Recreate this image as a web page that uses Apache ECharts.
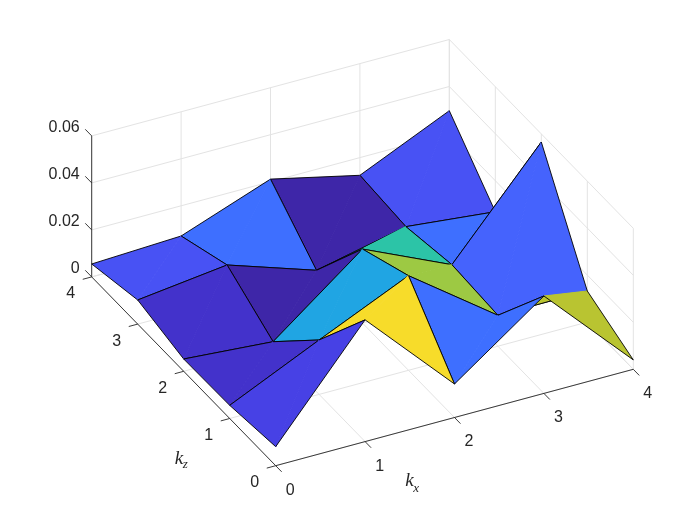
<!DOCTYPE html>
<html><head><meta charset="utf-8">
<style>html,body{margin:0;padding:0;background:#fff}#c{width:700px;height:525px}</style>
<script src="https://cdn.jsdelivr.net/npm/echarts@6/dist/echarts.min.js"></script>
</head><body><div id="c"></div>
<script>
// tick values
var kxTicks = [0, 1, 2, 3, 4];
var kzTicks = [0, 1, 2, 3, 4];
var zTicks = [0, 0.02, 0.04, 0.06];
var zTickLabels = ['0', '0.02', '0.04', '0.06'];
// surface heights, one list per kz row, kx = 0..4
var zAtKz0 = [0.0081, 0.0518, 0.01426, 0.04145, 0.0040];
var zAtKz1 = [0.0056, 0.02315, 0.04026, 0.01315, 0.01323];
var zAtKz2 = [0.00523, 0.00234, 0.0315, 0.0146, 0.05655];
var zAtKz3 = [0.01026, 0.0149, 0.00238, 0.0107, 0.0068];
var zAtKz4 = [0.0055, 0.00715, 0.0211, 0.01247, 0.0297];
var zRows = [zAtKz0, zAtKz1, zAtKz2, zAtKz3, zAtKz4];
// parula colormap
var parula = [[.2422,.1504,.6603],[.2504,.1650,.7076],[.2578,.1818,.7511],[.2647,.1978,.7952],[.2706,.2147,.8364],[.2751,.2342,.8710],[.2783,.2559,.8991],[.2803,.2782,.9221],[.2813,.3006,.9414],[.2810,.3228,.9579],[.2795,.3447,.9717],[.2760,.3667,.9829],[.2699,.3892,.9906],[.2602,.4123,.9952],[.2440,.4358,.9988],[.2206,.4603,.9973],[.1963,.4847,.9892],[.1834,.5074,.9798],[.1786,.5289,.9682],[.1764,.5499,.9520],[.1687,.5703,.9359],[.1540,.5902,.9218],[.1460,.6091,.9079],[.1380,.6276,.8973],[.1248,.6459,.8883],[.1113,.6635,.8763],[.0952,.6798,.8598],[.0689,.6948,.8394],[.0297,.7082,.8163],[.0036,.7203,.7917],[.0067,.7312,.7660],[.0433,.7411,.7394],[.0964,.7500,.7120],[.1408,.7584,.6842],[.1717,.7670,.6554],[.1938,.7758,.6251],[.2161,.7843,.5923],[.2470,.7918,.5567],[.2906,.7973,.5188],[.3406,.8008,.4789],[.3909,.8029,.4354],[.4456,.8024,.3909],[.5044,.7993,.3480],[.5616,.7942,.3045],[.6174,.7876,.2612],[.6720,.7793,.2227],[.7242,.7698,.1910],[.7738,.7598,.1646],[.8203,.7498,.1535],[.8634,.7406,.1596],[.9035,.7330,.1774],[.9393,.7288,.2100],[.9728,.7298,.2394],[.9956,.7434,.2371],[.9970,.7659,.2199],[.9952,.7893,.2028],[.9892,.8136,.1885],[.9786,.8386,.1766],[.9676,.8639,.1643],[.9610,.8890,.1537],[.9597,.9135,.1423],[.9628,.9373,.1265],[.9691,.9606,.1064],[.9769,.9839,.0805]];

// 3D view: orthographic projection onto the hidden 700x525 cartesian plane
var ORIGIN = [275.7, 465.7], EX = [89.4, -24.1], EZ = [-46.0, -47.2], EH = -2350;
function project(kx, kz, h) {
  return [ORIGIN[0] + kx * EX[0] + kz * EZ[0], ORIGIN[1] + kx * EX[1] + kz * EZ[1] + h * EH];
}
var INK = '#262626', GRID = '#e3e3e3';
var all = [].concat.apply([], zRows);
var zMin = Math.min.apply(null, all), zMax = Math.max.apply(null, all);
function faceColor(h) {
  var i = Math.min(parula.length - 1, Math.floor((h - zMin) / (zMax - zMin) * parula.length));
  var c = parula[i];
  return 'rgb(' + Math.round(c[0] * 255) + ',' + Math.round(c[1] * 255) + ',' + Math.round(c[2] * 255) + ')';
}

// grid lines and axes as 3D segments
var kMax = 4, hMax = zTicks[zTicks.length - 1];
var gridSegs = [], axisSegs = [];
kxTicks.forEach(function (k) {
  gridSegs.push([k, 0, 0, k, kMax, 0]);
  gridSegs.push([k, kMax, 0, k, kMax, hMax]);
  axisSegs.push([k, 0, 0, k, -0.13, 0]);
});
kzTicks.forEach(function (k) {
  gridSegs.push([0, k, 0, kMax, k, 0]);
  gridSegs.push([kMax, k, 0, kMax, k, hMax]);
  axisSegs.push([0, k, 0, -0.1, k, 0]);
});
zTicks.forEach(function (h) {
  gridSegs.push([0, kMax, h, kMax, kMax, h]);
  gridSegs.push([kMax, 0, h, kMax, kMax, h]);
  axisSegs.push([0, kMax, h, 0, kMax + 0.14, h]);
});
axisSegs.push([0, 0, 0, kMax, 0, 0]);
axisSegs.push([0, 0, 0, 0, kMax, 0]);
axisSegs.push([0, kMax, 0, 0, kMax, hMax]);

// surface faces, back to front
var faces = [];
for (var r = 3; r >= 0; r--) for (var q = 3; q >= 0; q--) faces.push([q, r]);

// text labels
var TICK_FONT = '16px "Liberation Sans", Arial, sans-serif';
var K_FONT = 'italic 19px "Liberation Serif", serif', SUB_FONT = 'italic 13px "Liberation Serif", serif';
var labels = [];
kxTicks.forEach(function (k) { labels.push({ a: [k, 0, 0], dx: 14.5, dy: 24.5, t: String(k), align: 'center' }); });
kzTicks.forEach(function (k) { labels.push({ a: [0, k, 0], dx: -21, dy: 17, t: String(k), align: 'center' }); });
zTicks.forEach(function (h, i) { labels.push({ a: [0, kMax, h], dx: -12, dy: -8.5, t: zTickLabels[i], align: 'right' }); });
labels.push({ a: [2.5, 0, 0], dx: -94, dy: 76, t: 'k', f: K_FONT, align: 'left' });
labels.push({ a: [2.5, 0, 0], dx: -86, dy: 83.5, t: 'x', f: SUB_FONT, align: 'left' });
labels.push({ a: [0, 1.5, 0], dx: -32, dy: 64, t: 'k', f: K_FONT, align: 'left' });
labels.push({ a: [0, 1.5, 0], dx: -24, dy: 70, t: 'z', f: SUB_FONT, align: 'left' });

function segItem(color, width) {
  return function (params, api) {
    var list = params.seriesName === 'grid' ? gridSegs : axisSegs;
    var s = list[api.value(0)];
    var a = api.coord(project(s[0], s[1], s[2])), b = api.coord(project(s[3], s[4], s[5]));
    return { type: 'line', shape: { x1: a[0], y1: a[1], x2: b[0], y2: b[1] }, style: { stroke: color, lineWidth: width, fill: null } };
  };
}
function vertex(api, kx, kz) { return api.coord(project(kx, kz, zRows[kz][kx])); }
function faceItem(params, api) {
  var q = api.value(0), r = api.value(1);
  var c = faceColor(zRows[r][q]);
  var p1 = vertex(api, q, r), p2 = vertex(api, q + 1, r), p3 = vertex(api, q + 1, r + 1), p4 = vertex(api, q, r + 1);
  var edge = { stroke: '#000', lineWidth: 0.9, fill: null, lineJoin: 'round' };
  return { type: 'group', children: [
    { type: 'polygon', shape: { points: [p1, p3, p4] }, style: { fill: c } },
    { type: 'polyline', shape: { points: [p3, p4, p1] }, style: edge },
    { type: 'polygon', shape: { points: [p1, p2, p3] }, style: { fill: c } },
    { type: 'line', shape: { x1: p1[0], y1: p1[1], x2: p3[0], y2: p3[1] }, style: { stroke: c, lineWidth: 1.2, fill: null } },
    { type: 'polyline', shape: { points: [p1, p2, p3] }, style: edge }
  ] };
}
function labelItem(params, api) {
  var l = labels[api.value(0)];
  var p = api.coord(project(l.a[0], l.a[1], l.a[2]));
  return { type: 'text', x: p[0] + l.dx, y: p[1] + l.dy,
    style: { text: l.t, font: l.f || TICK_FONT, fill: INK, align: l.align, verticalAlign: 'middle' } };
}
function idx(list) { return list.map(function (_, i) { return [i, 0]; }); }

var chart = echarts.init(document.getElementById('c'), null, { renderer: 'canvas' });
chart.setOption({
  animation: false,
  backgroundColor: '#fff',
  grid: { left: 0, right: 0, top: 0, bottom: 0 },
  xAxis: { type: 'value', min: 0, max: 700, show: false },
  yAxis: { type: 'value', min: 0, max: 525, inverse: true, show: false },
  series: [
    { type: 'custom', name: 'grid', silent: true, clip: false, z: 1, renderItem: segItem(GRID, 1), data: idx(gridSegs) },
    { type: 'custom', name: 'axes', silent: true, clip: false, z: 2, renderItem: segItem(INK, 0.9), data: idx(axisSegs) },
    { type: 'custom', name: 'surface', silent: true, clip: false, z: 3, renderItem: faceItem, data: faces },
    { type: 'custom', name: 'labels', silent: true, clip: false, z: 4, renderItem: labelItem, data: idx(labels) }
  ]
});
</script></body></html>
